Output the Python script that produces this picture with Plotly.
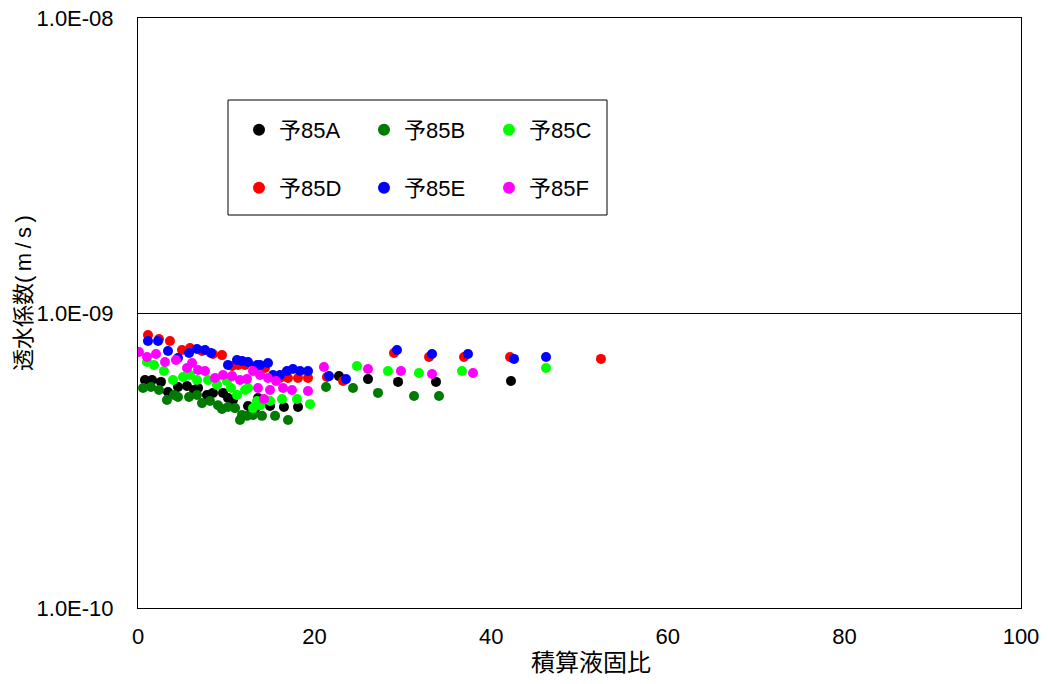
import plotly.graph_objects as go

# 積算液固比 (x) and 透水係数 (y, in units of 1e-10 m/s) for each specimen
a_x = [0.79, 1.59, 2.60, 3.40, 4.53, 5.55, 6.34, 6.80, 7.81, 8.49, 9.63, 10.19, 10.76, 12.46, 13.25, 13.59, 14.95, 16.53, 18.12, 22.76, 26.05, 29.45, 33.75, 42.24]
a_y = [5.93, 5.93, 5.84, 5.40, 5.61, 5.66, 5.48, 5.57, 5.27, 5.36, 5.36, 5.15, 5.07, 4.84, 4.73, 5.15, 4.84, 4.80, 4.80, 6.11, 5.97, 5.84, 5.84, 5.88]

b_x = [0.57, 1.47, 2.38, 3.28, 4.08, 4.53, 5.78, 6.68, 7.25, 8.15, 9.06, 9.51, 10.19, 10.99, 11.55, 11.78, 12.34, 13.02, 14.04, 15.52, 16.99, 21.29, 24.35, 27.18, 31.26, 34.09]
b_y = [5.57, 5.61, 5.48, 5.07, 5.27, 5.19, 5.19, 5.27, 4.95, 5.03, 4.87, 4.73, 4.80, 4.76, 4.34, 4.51, 4.48, 4.51, 4.48, 4.48, 4.34, 5.61, 5.57, 5.36, 5.23, 5.23]

c_x = [1.02, 1.81, 2.94, 3.96, 5.10, 5.89, 6.68, 7.93, 8.95, 10.08, 10.53, 11.21, 12.12, 12.46, 13.02, 13.48, 13.82, 14.95, 16.31, 18.01, 19.48, 24.80, 28.31, 31.82, 36.69, 46.21]
c_y = [6.82, 6.66, 6.36, 5.93, 6.07, 6.16, 5.93, 5.93, 5.70, 5.88, 5.57, 5.27, 5.48, 5.57, 4.76, 5.03, 4.87, 5.03, 5.11, 5.11, 4.91, 6.61, 6.36, 6.26, 6.36, 6.51]

d_x = [1.13, 2.38, 3.62, 4.98, 5.89, 7.25, 8.49, 9.51, 10.65, 11.33, 12.12, 13.25, 14.38, 16.08, 16.99, 18.12, 19.25, 21.40, 23.22, 28.99, 32.96, 36.92, 42.13, 52.43]
d_y = [8.42, 8.16, 8.04, 7.49, 7.61, 7.43, 7.26, 7.20, 6.61, 6.66, 6.66, 6.56, 6.51, 6.02, 6.02, 6.02, 6.02, 6.07, 5.88, 7.32, 7.09, 7.09, 7.09, 6.99]

e_x = [1.13, 2.27, 3.40, 4.53, 5.78, 6.68, 7.59, 8.27, 10.19, 11.21, 11.78, 12.46, 13.48, 13.82, 14.72, 15.29, 16.08, 16.87, 17.55, 18.35, 19.25, 21.63, 23.56, 29.33, 33.30, 37.37, 42.58, 46.21]
e_y = [8.04, 8.04, 7.43, 7.04, 7.32, 7.55, 7.49, 7.32, 6.66, 6.93, 6.88, 6.82, 6.66, 6.66, 6.77, 6.16, 6.16, 6.36, 6.46, 6.36, 6.36, 6.11, 5.97, 7.49, 7.26, 7.26, 6.99, 7.09]

f_x = [0.11, 1.02, 2.04, 3.06, 4.30, 5.55, 6.12, 6.80, 7.59, 8.72, 9.63, 10.65, 11.55, 12.34, 13.02, 13.59, 13.82, 14.27, 14.72, 14.95, 15.63, 16.42, 17.44, 19.25, 21.06, 26.05, 29.78, 33.30, 37.94]
f_y = [7.38, 7.09, 7.26, 6.82, 6.93, 6.51, 6.77, 6.41, 6.36, 6.02, 6.16, 6.11, 5.93, 5.97, 6.36, 5.57, 6.16, 5.11, 6.02, 5.48, 5.88, 5.57, 5.48, 5.44, 6.56, 6.46, 6.36, 6.21, 6.26]

series_names = ["予85A", "予85B", "予85C", "予85D", "予85E", "予85F"]
series_colors = ["#000000", "#007A00", "#00FF00", "#FF0000", "#0000FF", "#FF00FF"]
series_x = [a_x, b_x, c_x, d_x, e_x, f_x]
series_y = [a_y, b_y, c_y, d_y, e_y, f_y]

y_tick_vals = [1e-10, 1e-9, 1e-8]
y_tick_text = ["1.0E-10", "1.0E-09", "1.0E-08"]
x_tick_vals = [0, 20, 40, 60, 80, 100]

FONT = "Liberation Sans, Arial, Noto Sans CJK JP, sans-serif"

# plot area in pixels
L, R, T, B = 138, 1021, 18, 608
W, H = R - L, B - T


def px_x(p):
    return (p - L) / W


def px_y(p):
    return (B - p) / H


fig = go.Figure()
for i, (name, color, xs, ys) in enumerate(zip(series_names, series_colors, series_x, series_y)):
    fig.add_trace(go.Scatter(
        x=xs,
        y=[v * 1e-10 for v in ys],
        mode="markers",
        name=name,
        marker=dict(color=color, size=10, line=dict(width=0)),
        legend="legend" if i < 3 else "legend2",
    ))

legend_common = dict(
    orientation="h",
    bgcolor="rgba(0,0,0,0)",
    borderwidth=0,
    font=dict(family=FONT, size=22, color="#000000"),
    itemsizing="constant",
    entrywidth=80,
    entrywidthmode="pixels",
    xanchor="left",
    yanchor="middle",
    xref="paper",
    yref="paper",
)

fig.update_layout(
    width=1048,
    height=684,
    margin=dict(l=L, r=1048 - R, t=T, b=684 - B),
    paper_bgcolor="#FFFFFF",
    plot_bgcolor="#FFFFFF",
    font=dict(family=FONT, size=22, color="#000000"),
    showlegend=True,
    legend=dict(x=px_x(239), y=px_y(130), **legend_common),
    legend2=dict(x=px_x(239), y=px_y(188), **legend_common),
    xaxis=dict(
        range=[0, 100],
        tickvals=x_tick_vals,
        showgrid=False,
        zeroline=False,
        showline=True,
        mirror=True,
        linecolor="#000000",
        linewidth=1,
        ticks="",
        ticklabelstandoff=9,
        tickfont=dict(family=FONT, size=22),
        automargin=False,
    ),
    yaxis=dict(
        type="log",
        range=[-10, -8],
        tickvals=y_tick_vals,
        ticktext=y_tick_text,
        showgrid=True,
        gridcolor="#000000",
        gridwidth=1,
        zeroline=False,
        showline=True,
        mirror=True,
        linecolor="#000000",
        linewidth=1,
        ticks="",
        ticklabelstandoff=19,
        tickfont=dict(family=FONT, size=22),
        automargin=False,
    ),
    shapes=[dict(
        type="rect", xref="paper", yref="paper",
        x0=px_x(228), x1=px_x(607),
        y0=px_y(215), y1=px_y(100),
        line=dict(color="#000000", width=1),
        fillcolor="rgba(0,0,0,0)",
        layer="below",
    )],
    annotations=[
        dict(
            text="透水係数(\u2009m\u2009/\u2009s\u2009)",
            textangle=-90,
            xref="paper", yref="paper",
            x=px_x(23), y=px_y(293),
            xanchor="center", yanchor="middle",
            showarrow=False,
            font=dict(family=FONT, size=22, color="#000000"),
        ),
        dict(
            text="積算液固比",
            xref="paper", yref="paper",
            x=px_x(591), y=px_y(662),
            xanchor="center", yanchor="middle",
            showarrow=False,
            font=dict(family=FONT, size=24, color="#000000"),
        ),
    ],
)

fig.write_html("out.html")
